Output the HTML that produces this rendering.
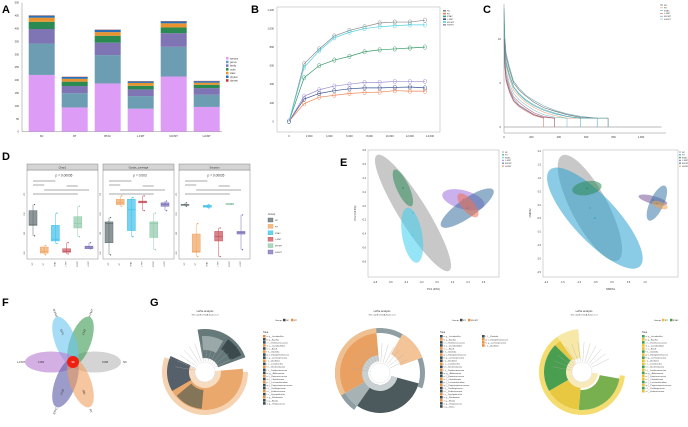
<!DOCTYPE html>
<html><head><meta charset="utf-8"><style>
html,body{margin:0;padding:0;background:#fff;}
svg{display:block;font-family:"Liberation Sans",sans-serif;}
</style></head><body>
<svg id="fig" width="688" height="427" viewBox="0 0 688 427" xmlns="http://www.w3.org/2000/svg">
<rect width="688" height="427" fill="#fff"/>
<text x="2" y="13" font-size="11" font-weight="bold">A</text>
<text x="251" y="13" font-size="11" font-weight="bold">B</text>
<text x="483" y="13" font-size="11" font-weight="bold">C</text>
<text x="2" y="160" font-size="11" font-weight="bold">D</text>
<text x="340" y="166" font-size="11" font-weight="bold">E</text>
<text x="2" y="306" font-size="11" font-weight="bold">F</text>
<text x="150" y="306" font-size="11" font-weight="bold">G</text>
</svg>
<script>
const NS='http://www.w3.org/2000/svg';
const svg=document.getElementById('fig');
function mk(tag,attrs,parent){const e=document.createElementNS(NS,tag);for(const k in attrs)e.setAttribute(k,attrs[k]);(parent||svg).appendChild(e);return e;}
function tx(x,y,s,size,attrs){const e=mk('text',Object.assign({x:x,y:y,'font-size':size,fill:'#333'},attrs||{}));e.textContent=s;return e;}
function wedge(cx,cy,r0,r1,a0,a1){const p=Math.PI/180;const A0=a0*p,A1=a1*p;const lg=(a1-a0)>180?1:0;
return `M${cx+r1*Math.cos(A0)},${cy+r1*Math.sin(A0)} A${r1},${r1} 0 ${lg} 1 ${cx+r1*Math.cos(A1)},${cy+r1*Math.sin(A1)} L${cx+r0*Math.cos(A1)},${cy+r0*Math.sin(A1)} A${r0},${r0} 0 ${lg} 0 ${cx+r0*Math.cos(A0)},${cy+r0*Math.sin(A0)} Z`;}

/* ===== Panel A data ===== */
const groupsA=['NC','RT','BTAC','L-FMT','M-FMT','H-FMT'];
const levelsA=['species','genus','family','order','class','phylum','domain'];
const speciesA=[220,94,187,89,214,96];
const genusA=[122,55,110,49,115,47];
const familyA=[56,28,48,26,53,26];
const orderA=[28,17,27,14,22,13];
const classA=[16,11,14,11,16,8];
const phylumA=[8,7,9,6,8,6];
const domainA=[1,1,1,1,1,1];
const ticksA=[0,50,100,150,200,250,300,350,400,450,500];

/* ===== Panel B data ===== */
const depthB=[0,1500,3000,4500,6000,7500,9000,10500,12000,13500];
const seriesNamesB=['NC','RT','BTAC','L-FMT','M-FMT','H-FMT'];
const ncB=[0,620,780,920,980,1020,1060,1070,1070,1090];
const rtB=[0,190,260,280,300,310,315,330,325,325];
const btacB=[0,470,600,660,700,750,770,780,790,800];
const lfmtB=[0,240,300,330,350,360,360,365,370,360];
const mfmtB=[0,580,760,900,960,1000,1020,1030,1040,1040];
const hfmtB=[0,270,340,380,400,420,420,430,430,430];
const xticksB=[0,2000,4000,6000,8000,10000,12000,14000];
const yticksB=[0,200,400,600,800,1000,1200];

/* ===== Panel C data (rank, abundance) ===== */
const rankC=[1,5,15,40,70,110,160,220,290,370,460,560,680,760];
const curvesC=[
 [13,10,8,6.5,5,4.2,3.5,2.8,2.2,1.8,1.4,1.1,1,1],
 [12,9,7,5.5,4.2,3.5,2.8,2.2,1.7,1.3,1,1],
 [12.5,9.5,7.5,6,4.6,3.8,3.1,2.5,2,1.6,1.2,1],
 [11,8,6,4.5,3.4,2.8,2.2,1.6,1.2,1],
 [10.5,7.5,5.6,4.2,3.2,2.5,2,1.4,1],
 [11.5,8.5,6.4,4.9,3.8,3.1,2.5,1.9,1.4,1.1,1],
 [9.5,7,5.2,3.9,2.9,2.3,1.8,1.3,1],
 [12,9.2,7.2,5.8,4.5,3.7,3,2.4,1.9,1.5,1.2,1,1],
 [10,7.2,5.4,4.1,3,2.4,1.9,1.4,1.1,1],
 [13.5,10.5,8.4,6.8,5.2,4.4,3.6,3,2.4,1.9,1.5,1.2,1,1]
];
const colorsC=['#555','#e8a070','#48b8c8','#b06070','#7080b0','#70c0c0','#d08060','#3a9aa8','#905070','#5a9aa0'];
const xticksC=[0,200,400,600,800,1000];
const yticksC=[0,5,10];

/* ===== Panel D data: [min,q1,median,q3,max] ===== */
const facetsD=['Chao1','Goods_coverage','Simpson'];
const pvalsD=['p = 0.00036','p = 0.003','p = 0.00026'];
const groupsD=['NC','RT','BTAC','L-FMT','M-FMT','H-FMT'];
const chaoD=[[26,38,38.5,55,62],[4,6,8,13,15],[17,20,22,38,52],[5,7,8,11,18],[25,35,40,48,60],[11,11,13,14,18]];
const goodsD=[[4,18,40,42,47],[60,62,64,68,72],[25,32,56,68,70],[55,64,65,66,72],[10,24,40,42,52],[55,60,62,64,66]];
const simpD=[[60,61,62,62,64],[2,7,8,28,40],[58,59,60,61,62],[2,20,25,31,35],[62,62,63,63,63],[10,28,30,31,50]];

/* ===== Panel E data: [cx, cy, a, b, angle] ===== */
const ellPcoa=[[-0.31,-0.10,0.88,0.18,58],[-0.44,0.26,0.26,0.08,65],[-0.32,-0.42,0.36,0.13,80],[0.34,0.09,0.28,0.12,15],[0.39,-0.03,0.41,0.12,-35],[0.40,0.01,0.19,0.08,50]];
const ellNmds=[[-0.67,-0.11,1.8,0.55,62],[-0.52,-0.49,2.0,0.67,47],[-0.76,0.63,0.45,0.21,-10],[1.24,0.19,0.45,0.12,15],[1.36,0.07,0.58,0.21,-65],[1.45,0.0,0.25,0.1,20]];
const ellColorsPcoa=['#9a9a9a','#2e8b57','#40d0f0','#a070e0','#3a70a0','#f07050'];
const ellColorsNmds=['#9a9a9a','#2aa0d0','#2e8b57','#7a5a9a','#3a78a8','#f0a050'];
const xticksPcoa=[-0.8,-0.6,-0.4,-0.2,0,0.2,0.4,0.6];
const yticksPcoa=[0.8,0.6,0.4,0.2,0,-0.2,-0.4,-0.6,-0.8];
const xticksNmds=[-2.0,-1.5,-1.0,-0.5,0,0.5,1.0];
const yticksNmds=[2.0,1.5,1.0,0.5,0,-0.5,-1.0,-1.5,-2.0,-2.5];

/* ===== Panel F data ===== */
const vennNames=['NC','H-FMT','M-FMT','L-FMT','BTAC','RT'];
const vennCounts=[3168,1342,1576,1159,2136,395];
const vennCore=[99];

const colA=['#dd9cf6','#6c9db2','#7f74b4','#2a8a52','#e8932f','#2a6fb3','#c0392b'];
const dataA=[speciesA,genusA,familyA,orderA,classA,phylumA,domainA];
const colB=['#8a8a8a','#f08050','#3a9a6a','#3a5090','#50d0e0','#a090d0'];
const serB=[ncB,rtB,btacB,lfmtB,mfmtB,hfmtB];
const colD=['#5d6b6e','#f0a460','#3cc0ea','#c8505a','#8fc9a8','#7a6fb8'];

/* ---------- Panel A ---------- */
const yA=v=>131.7-v*0.258;
const xA=i=>41.7+i*33;
const gA=mk('g',{});


const axA=mk('line',{x1:22,y1:yA(0),x2:22,y2:yA(500),stroke:'#888','stroke-width':0.5},gA);


const axAx=mk('line',{x1:22,y1:yA(0),x2:222,y2:yA(0),stroke:'#888','stroke-width':0.5},gA);


ticksA.forEach(t=>{const e=tx(19,yA(t)+1,String(t),2.6,{'text-anchor':'end'});gA.appendChild(e);});
groupsA.forEach((g,i)=>{let cum=0;
 levelsA.forEach((lv,k)=>{const v=dataA[k][i];const r=mk('rect',{x:xA(i)-13,y:yA(cum+v),width:26,height:v*0.258,fill:colA[k]},gA);
  
  cum+=v;});
 const l=tx(xA(i),137,g,2.6,{'text-anchor':'middle'});
 
 });
levelsA.forEach((lv,k)=>{const r=mk('rect',{x:226,y:57+k*3.7,width:2.5,height:2.5,fill:colA[k]});
 
 
 const t=tx(230,59.3+k*3.7,lv,2.4);
 
 });

/* ---------- Panel B ---------- */
const xB=v=>289+v*(141/14000);
const yB=v=>121.3-v*(111.3/1200);
const boxB=mk('rect',{x:277,y:7,width:163,height:125,fill:'none',stroke:'#bbb','stroke-width':0.6});


xticksB.forEach(t=>{const e=tx(xB(t),137,t.toLocaleString('en-US'),2.6,{'text-anchor':'middle'});});
yticksB.forEach(t=>{const e=tx(274,yB(t)+1,t.toLocaleString('en-US'),2.6,{'text-anchor':'end'});});
serB.forEach((s,si)=>{const d=s.map((v,i)=>(i?'L':'M')+xB(depthB[i])+','+yB(v)).join(' ');
 const p=mk('path',{d:d,fill:'none',stroke:colB[si],'stroke-width':0.7});
 
 
 s.forEach((v,i)=>{const c=mk('ellipse',{cx:xB(depthB[i]),cy:yB(v),rx:1.6,ry:2.2,fill:'none',stroke:colB[si],'stroke-width':0.5});
  
  });
 const ls=mk('rect',{x:443,y:10+si*2.8,width:3,height:1.6,fill:colB[si]});
 
 
 const lt=tx(447,11.6+si*2.8,seriesNamesB[si],2.2);
 
 });

/* ---------- Panel C ---------- */
const xC=v=>504+v*0.137;
const yC=v=>127-v*8.8;
const cax=mk('path',{d:`M${xC(0)},4 L${xC(0)},133 L666,133`,fill:'none',stroke:'#888','stroke-width':0.5});


xticksC.forEach(t=>{const e=tx(xC(t),138,t.toLocaleString('en-US'),2.6,{'text-anchor':'middle'});});
yticksC.forEach(t=>{const e=tx(501,yC(t)+1,String(t),2.6,{'text-anchor':'end'});});
curvesC.forEach((cv,ci)=>{let d='M'+xC(rankC[0])+','+yC(cv[0]);
 for(let i=1;i<cv.length;i++){d+=' L'+xC(rankC[i])+','+yC(cv[i]);}
 const p=mk('path',{d:d,fill:'none',stroke:colorsC[ci],'stroke-width':0.6,opacity:0.85});
 
 
 const last=cv.length-1;
 const tick=mk('line',{x1:xC(rankC[last]),y1:yC(cv[last]),x2:xC(rankC[last]),y2:yC(0),stroke:colorsC[ci],'stroke-width':0.5});
 
 });
const base=mk('line',{x1:xC(0),y1:yC(0),x2:xC(1150),y2:yC(0),stroke:'#777','stroke-width':0.5});


seriesNamesB.forEach((n,i)=>{const l=mk('line',{x1:660,y1:5+i*2.8,x2:663,y2:5+i*2.8,stroke:colorsC[i],'stroke-width':0.6});
 
 
 const t=tx(664,5.8+i*2.8,n,2.2);
 
 });

/* ---------- Panel D ---------- */
const facetX=[27,103,179];
const facetData=[chaoD,goodsD,simpD];
const yD=v=>258.3-v*0.867;
facetsD.forEach((f,fi)=>{const x0=facetX[fi];
 const fr=mk('rect',{x:x0,y:170,width:71,height:89,fill:'#fff',stroke:'#888','stroke-width':0.5});
 
 
 const hd=mk('rect',{x:x0,y:164,width:71,height:6,fill:'#d4d4d4',stroke:'#888','stroke-width':0.5});
 
 
 const ht=tx(x0+35.5,168.3,f,2.6,{'text-anchor':'middle'});
 
 
 const pt=tx(x0+37,176.5,pvalsD[fi],3.2,{'text-anchor':'middle'});
 
 
 [0,25,50,75].forEach(t=>{const e=tx(x0-2,yD(t*0.9+8),String(t+100),2,{'text-anchor':'end',transform:`rotate(-90 ${x0-2} ${yD(t*0.9+8)})`});});
 facetData[fi].forEach((b,gi)=>{const cx=x0+6+gi*11.2;
  const w=mk('line',{x1:cx,y1:yD(b[0]),x2:cx,y2:yD(b[4]),stroke:colD[gi],'stroke-width':0.5});
  
  
  const r=mk('rect',{x:cx-4,y:yD(b[3]),width:8,height:Math.max(0.8,yD(b[1])-yD(b[3])),fill:colD[gi],'fill-opacity':0.7,stroke:colD[gi],'stroke-width':0.5});
  
  
  const m=mk('line',{x1:cx-4,y1:yD(b[2]),x2:cx+4,y2:yD(b[2]),stroke:colD[gi],'stroke-width':0.7});
  
  
  [b[0],b[4]].forEach(v=>{const c=mk('circle',{cx:cx+1.5,cy:yD(v),r:0.7,fill:colD[gi]});});
  const gl=tx(cx,264,groupsD[gi],1.8,{'text-anchor':'middle',transform:`rotate(-90 ${cx} 264)`});
  
  });
 [[0,1,185],[0,2,181],[0,4,194],[1,5,190],[3,4,186]].forEach(s=>{const l=mk('line',{x1:x0+6+s[0]*11.2,y1:s[2],x2:x0+6+s[1]*11.2,y2:s[2],stroke:'#555','stroke-width':0.5});
  
  });});
const gt=tx(268,215,'Group',2.6);


groupsD.forEach((g,i)=>{const r=mk('rect',{x:268,y:218+i*6.4,width:5,height:4,fill:colD[i],'fill-opacity':0.75,stroke:colD[i],'stroke-width':0.4});
 
 
 const t=tx(275,221+i*6.4,g,2.2);
 
 });

/* ---------- Panel E ---------- */
function ordPlot(x0,x1,xs,ys,ellData,cols,xt,yt,xl,yl,lx,nm){
 const fr=mk('rect',{x:x0,y:150,width:x1-x0,height:127,fill:'none',stroke:'#bbb','stroke-width':0.6});
 
 
 ellData.forEach((e,i)=>{const cx=xs(e[0]),cy=ys(e[1]);const a=xs(e[2])-xs(0);const b=xs(e[3])-xs(0);
  const el=mk('ellipse',{cx:cx,cy:cy,rx:a,ry:b,fill:cols[i],'fill-opacity':0.55,transform:`rotate(${e[4]} ${cx} ${cy})`});
  
  
  const pt=mk('circle',{cx:cx,cy:cy,r:0.8,fill:cols[i]});
  
  });
 xt.forEach(t=>{const e=tx(xs(t),283,t.toFixed(1),2.4,{'text-anchor':'middle'});});
 yt.forEach(t=>{const e=tx(x0-2,ys(t)+0.8,t.toFixed(1),2.4,{'text-anchor':'end'});});
 const xlab=tx((x0+x1)/2,290,xl,2.6,{'text-anchor':'middle'});
 
 
 const ylab=tx(x0-12,213,yl,2.6,{'text-anchor':'middle',transform:`rotate(-90 ${x0-12} 213)`});
 
 
 seriesNamesB.forEach((n,i)=>{const c=mk('circle',{cx:lx,cy:152+i*2.8,r:0.8,fill:cols[i]});
  
  
  const t=tx(lx+2,152.8+i*2.8,n,2.1);
  
  });}
ordPlot(368,499,v=>437+v*77.5,v=>206-v*69.5,ellPcoa,ellColorsPcoa,xticksPcoa,yticksPcoa,'PC1 (40%)','PC2 (14.9%)',503,'pcoa');
ordPlot(543,678,v=>612+v*33,v=>205-v*26.8,ellNmds,ellColorsNmds,xticksNmds,yticksNmds,'NMDS1','NMDS2',680,'nmds');

/* ---------- Panel F ---------- */
const vcx=73,vcy=362;
const petals=[[0,'#b8b8b8'],[-70,'#3a9a50'],[-110,'#6cc4f0'],[180,'#b87ad0'],[110,'#5a5aa8'],[70,'#f0a060']];
petals.forEach((p,i)=>{const ang=p[0],rad=ang*Math.PI/180;const cx=vcx+22*Math.cos(rad),cy=vcy+22*Math.sin(rad);
 const e=mk('ellipse',{cx:cx,cy:cy,rx:26,ry:10.5,fill:p[1],'fill-opacity':0.6,transform:`rotate(${ang} ${cx} ${cy})`});
 
 
 const nx=vcx+32*Math.cos(rad),ny=vcy+32*Math.sin(rad);
 const rot=(Math.abs(ang)>90?ang+180:ang);
 const ct=tx(nx,ny+1,String(vennCounts[i]),2.8,{'text-anchor':'middle',transform:`rotate(${ang===0||ang===180?0:rot} ${nx} ${ny})`});
 
 
 const lx=vcx+52*Math.cos(rad),ly=vcy+52*Math.sin(rad);
 const lt=tx(lx,ly+1,vennNames[i],2.8,{'text-anchor':'middle',transform:`rotate(${ang===0||ang===180?0:rot} ${lx} ${ly})`});
 
 });
const core=mk('circle',{cx:vcx,cy:vcy,r:6,fill:'#f02010'});


const coret=tx(vcx,vcy+1,String(vennCore[0]),2.8,{'text-anchor':'middle',fill:'#fff'});



/* ---------- Panel G ---------- */
const clads=[
 {cx:205,cy:372,r:43,title:205,grp:['NC','RT'],gc:['#3c4a4e','#e89040'],legX:263,rows:23,cols2:0,
  w:[[38,43,0,200,'#f5d2b0'],[10,38,-5,200,'#eba86c'],[14,43,-100,-20,'#65787a'],[22,36,-95,-60,'#9aa8aa'],[28,40,-55,-25,'#3c4a4e'],[16,38,150,205,'#55606a'],[18,37,95,140,'#857558'],[10,16,-5,200,'#f7dcc0']]},
 {cx:380,cy:373,r:45,title:382,grp:['RT','M-FMT'],gc:['#3c4a4e','#e89040'],legX:440,rows:24,cols2:4,
  w:[[40,45,125,380,'#8e9ea2'],[40,45,150,265,'#f0c090'],[12,40,15,125,'#4c5a5e'],[12,40,125,150,'#a6b2b4'],[12,40,150,265,'#eaa060'],[22,45,-60,-20,'#f2c498'],[12,18,15,265,'#c8d0d2']]},
 {cx:582,cy:372,r:43,title:584,grp:['RT','BTAC'],gc:['#e8c030','#40a050'],legX:642,rows:19,cols2:0,
  w:[[38,43,5,235,'#f5dc70'],[14,43,235,265,'#f8e8a8'],[14,38,150,225,'#4a9e50'],[18,38,10,95,'#78b050'],[14,38,95,150,'#e8c840'],[14,38,225,235,'#e8c840'],[10,16,5,235,'#f8eab8']]}
];
const taxa=['a: g__Lactobacillus','b: g__Bacillus','c: f__Ruminococcaceae','d: o__Lactobacillales','e: c__Bacilli','f: f__Clostridia','g: f__Erysipelotrichaceae','h: g__Lachnospiraceae','i: o__Bacillales','j: c__Lactobacillus','k: f__Bacteroidaceae','l: f__Coriobacteriaceae','m: g__Akkermansia','n: f__Enterococcaceae','o: f__Clostridiaceae','p: f__Lachnoclostridium','q: f__Peptostreptococcaceae','r: f__Oscillospiraceae','s: f__Eubacteriaceae','t: c__Erysipelotrichia','u: g__Romboutsia','v: g__Blautia','w: g__Streptococcus','x: g__Dorea'];
clads.forEach((c,ci)=>{
 const g=mk('g',{});
 
 
 c.w.forEach(w=>{const p=mk('path',{d:wedge(c.cx,c.cy,w[0],w[1],w[2],w[3]),fill:w[4]},g);
  
  });
 for(let a=-170;a<=-20;a+=12){const rad=a*Math.PI/180;
  const l=mk('line',{x1:c.cx+11*Math.cos(rad),y1:c.cy+11*Math.sin(rad),x2:c.cx+(30+(a%24===0?8:0))*Math.cos(rad),y2:c.cy+(30+(a%24===0?8:0))*Math.sin(rad),stroke:'#aaa','stroke-width':0.3},g);
  
  }
 const hole=mk('circle',{cx:c.cx,cy:c.cy,r:10,fill:'#fff',stroke:'#ccc','stroke-width':0.3},g);
 
 
 const t1=tx(c.title,312,'LefSe analysis',2.6,{'text-anchor':'middle'});
 
 
 const t2=tx(c.title,315.5,'The cutoff of LDA Score is 2',2.2,{'text-anchor':'middle'});
 
 
 const gx=c.legX+12;
 const gl=tx(gx,321,'Groups',2.2);
 
 
 c.grp.forEach((n,k)=>{const r=mk('rect',{x:gx+8+k*8,y:318.8,width:2.5,height:2.5,fill:c.gc[k]});
  
  
  const t=tx(gx+11+k*8,321,n,2.2);
  
  });
 const th=tx(c.legX,333,'Taxa',2.4);
 
 
 for(let i=0;i<c.rows;i++){const col=(i*7+ci*3)%5<2?c.gc[1]:c.gc[0];
  const r=mk('rect',{x:c.legX,y:335+i*3.05,width:2.6,height:2.6,fill:col});
  
  
  const t=tx(c.legX+3.5,337.2+i*3.05,taxa[i%taxa.length],2);
  
  }
 for(let i=0;i<c.cols2;i++){const r=mk('rect',{x:c.legX+42,y:335+i*3.05,width:2.6,height:2.6,fill:i==0?c.gc[0]:c.gc[1]});
  
  
  const t=tx(c.legX+45.5,337.2+i*3.05,taxa[(i+5)%taxa.length],2);
  
  }
});
</script>
</body></html>
